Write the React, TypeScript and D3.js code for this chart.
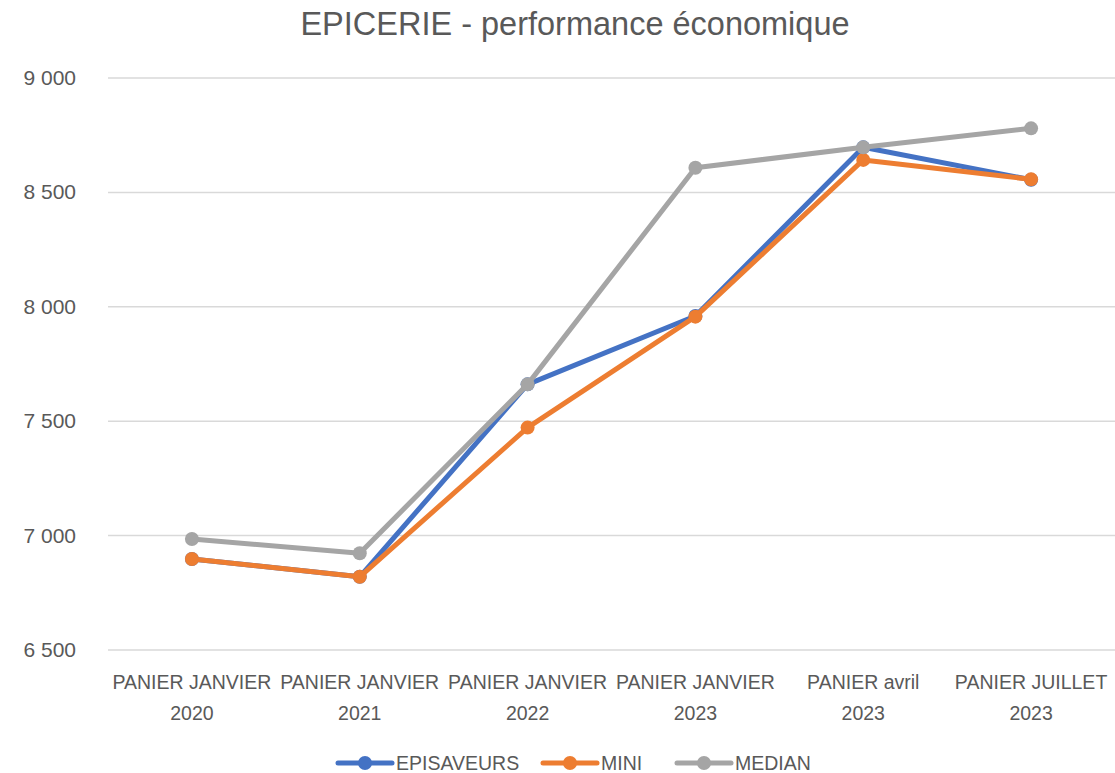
import React from 'react';
import * as d3 from 'd3';

const categories = [
  ['PANIER JANVIER', '2020'],
  ['PANIER JANVIER', '2021'],
  ['PANIER JANVIER', '2022'],
  ['PANIER JANVIER', '2023'],
  ['PANIER avril', '2023'],
  ['PANIER JUILLET', '2023'],
];

const episaveurs = [6898, 6820, 7661, 7960, 8697, 8555];
const mini = [6898, 6820, 7472, 7957, 8642, 8557];
const median = [6985, 6923, 7661, 8608, 8697, 8780];

const yTicks = [6500, 7000, 7500, 8000, 8500, 9000];

const series = [
  { name: 'EPISAVEURS', values: episaveurs, color: '#4472C4' },
  { name: 'MINI', values: mini, color: '#ED7D31' },
  { name: 'MEDIAN', values: median, color: '#A5A5A5' },
];

const width = 1115;
const height = 773;
const font = '"Liberation Sans", Arial, sans-serif';
const textColor = '#595959';

export default function App() {
  const x = d3
    .scaleBand()
    .domain(categories.map((_, i) => String(i)))
    .range([108, 1115]);

  const y = d3.scaleLinear().domain([6500, 9000]).range([650, 78]);

  const fmt = (v: number) => d3.format(',')(v).replace(',', ' ');

  const line = d3
    .line<number>()
    .x((_, i) => x(String(i))! + x.bandwidth() / 2)
    .y((d) => y(d));

  const legendX = [338, 543, 677];

  return (
    <svg
      width={width}
      height={height}
      style={{ position: 'absolute', left: 0, top: 0, background: '#fff' }}
      fontFamily={font}
    >
      <text x={575} y={35} textAnchor="middle" fontSize={32.5} fill={textColor}>
        EPICERIE - performance économique
      </text>

      {yTicks.map((t) => (
        <g key={t}>
          <line x1={108} x2={1115} y1={y(t)} y2={y(t)} stroke="#D9D9D9" strokeWidth={1.5} />
          <text x={76} y={y(t) + 7} textAnchor="end" fontSize={21} fill={textColor}>
            {fmt(t)}
          </text>
        </g>
      ))}

      {categories.map((c, i) => {
        const cx = x(String(i))! + x.bandwidth() / 2;
        return (
          <text key={i} x={cx} textAnchor="middle" fontSize={19.5} fill={textColor}>
            <tspan x={cx} y={689}>{c[0]}</tspan>
            <tspan x={cx} y={720}>{c[1]}</tspan>
          </text>
        );
      })}

      {series.map((s) => (
        <g key={s.name}>
          <path d={line(s.values)!} fill="none" stroke={s.color} strokeWidth={5} strokeLinejoin="round" strokeLinecap="round" />
          {s.values.map((v, i) => (
            <circle key={i} cx={x(String(i))! + x.bandwidth() / 2} cy={y(v)} r={7} fill={s.color} />
          ))}
        </g>
      ))}

      {series.map((s, i) => (
        <g key={s.name} transform={`translate(${legendX[i]},763)`}>
          <line x1={0} x2={54} y1={0} y2={0} stroke={s.color} strokeWidth={5} strokeLinecap="round" />
          <circle cx={27} cy={0} r={7} fill={s.color} />
          <text x={58} y={7} fontSize={19.5} fill={textColor}>
            {s.name}
          </text>
        </g>
      ))}
    </svg>
  );
}
